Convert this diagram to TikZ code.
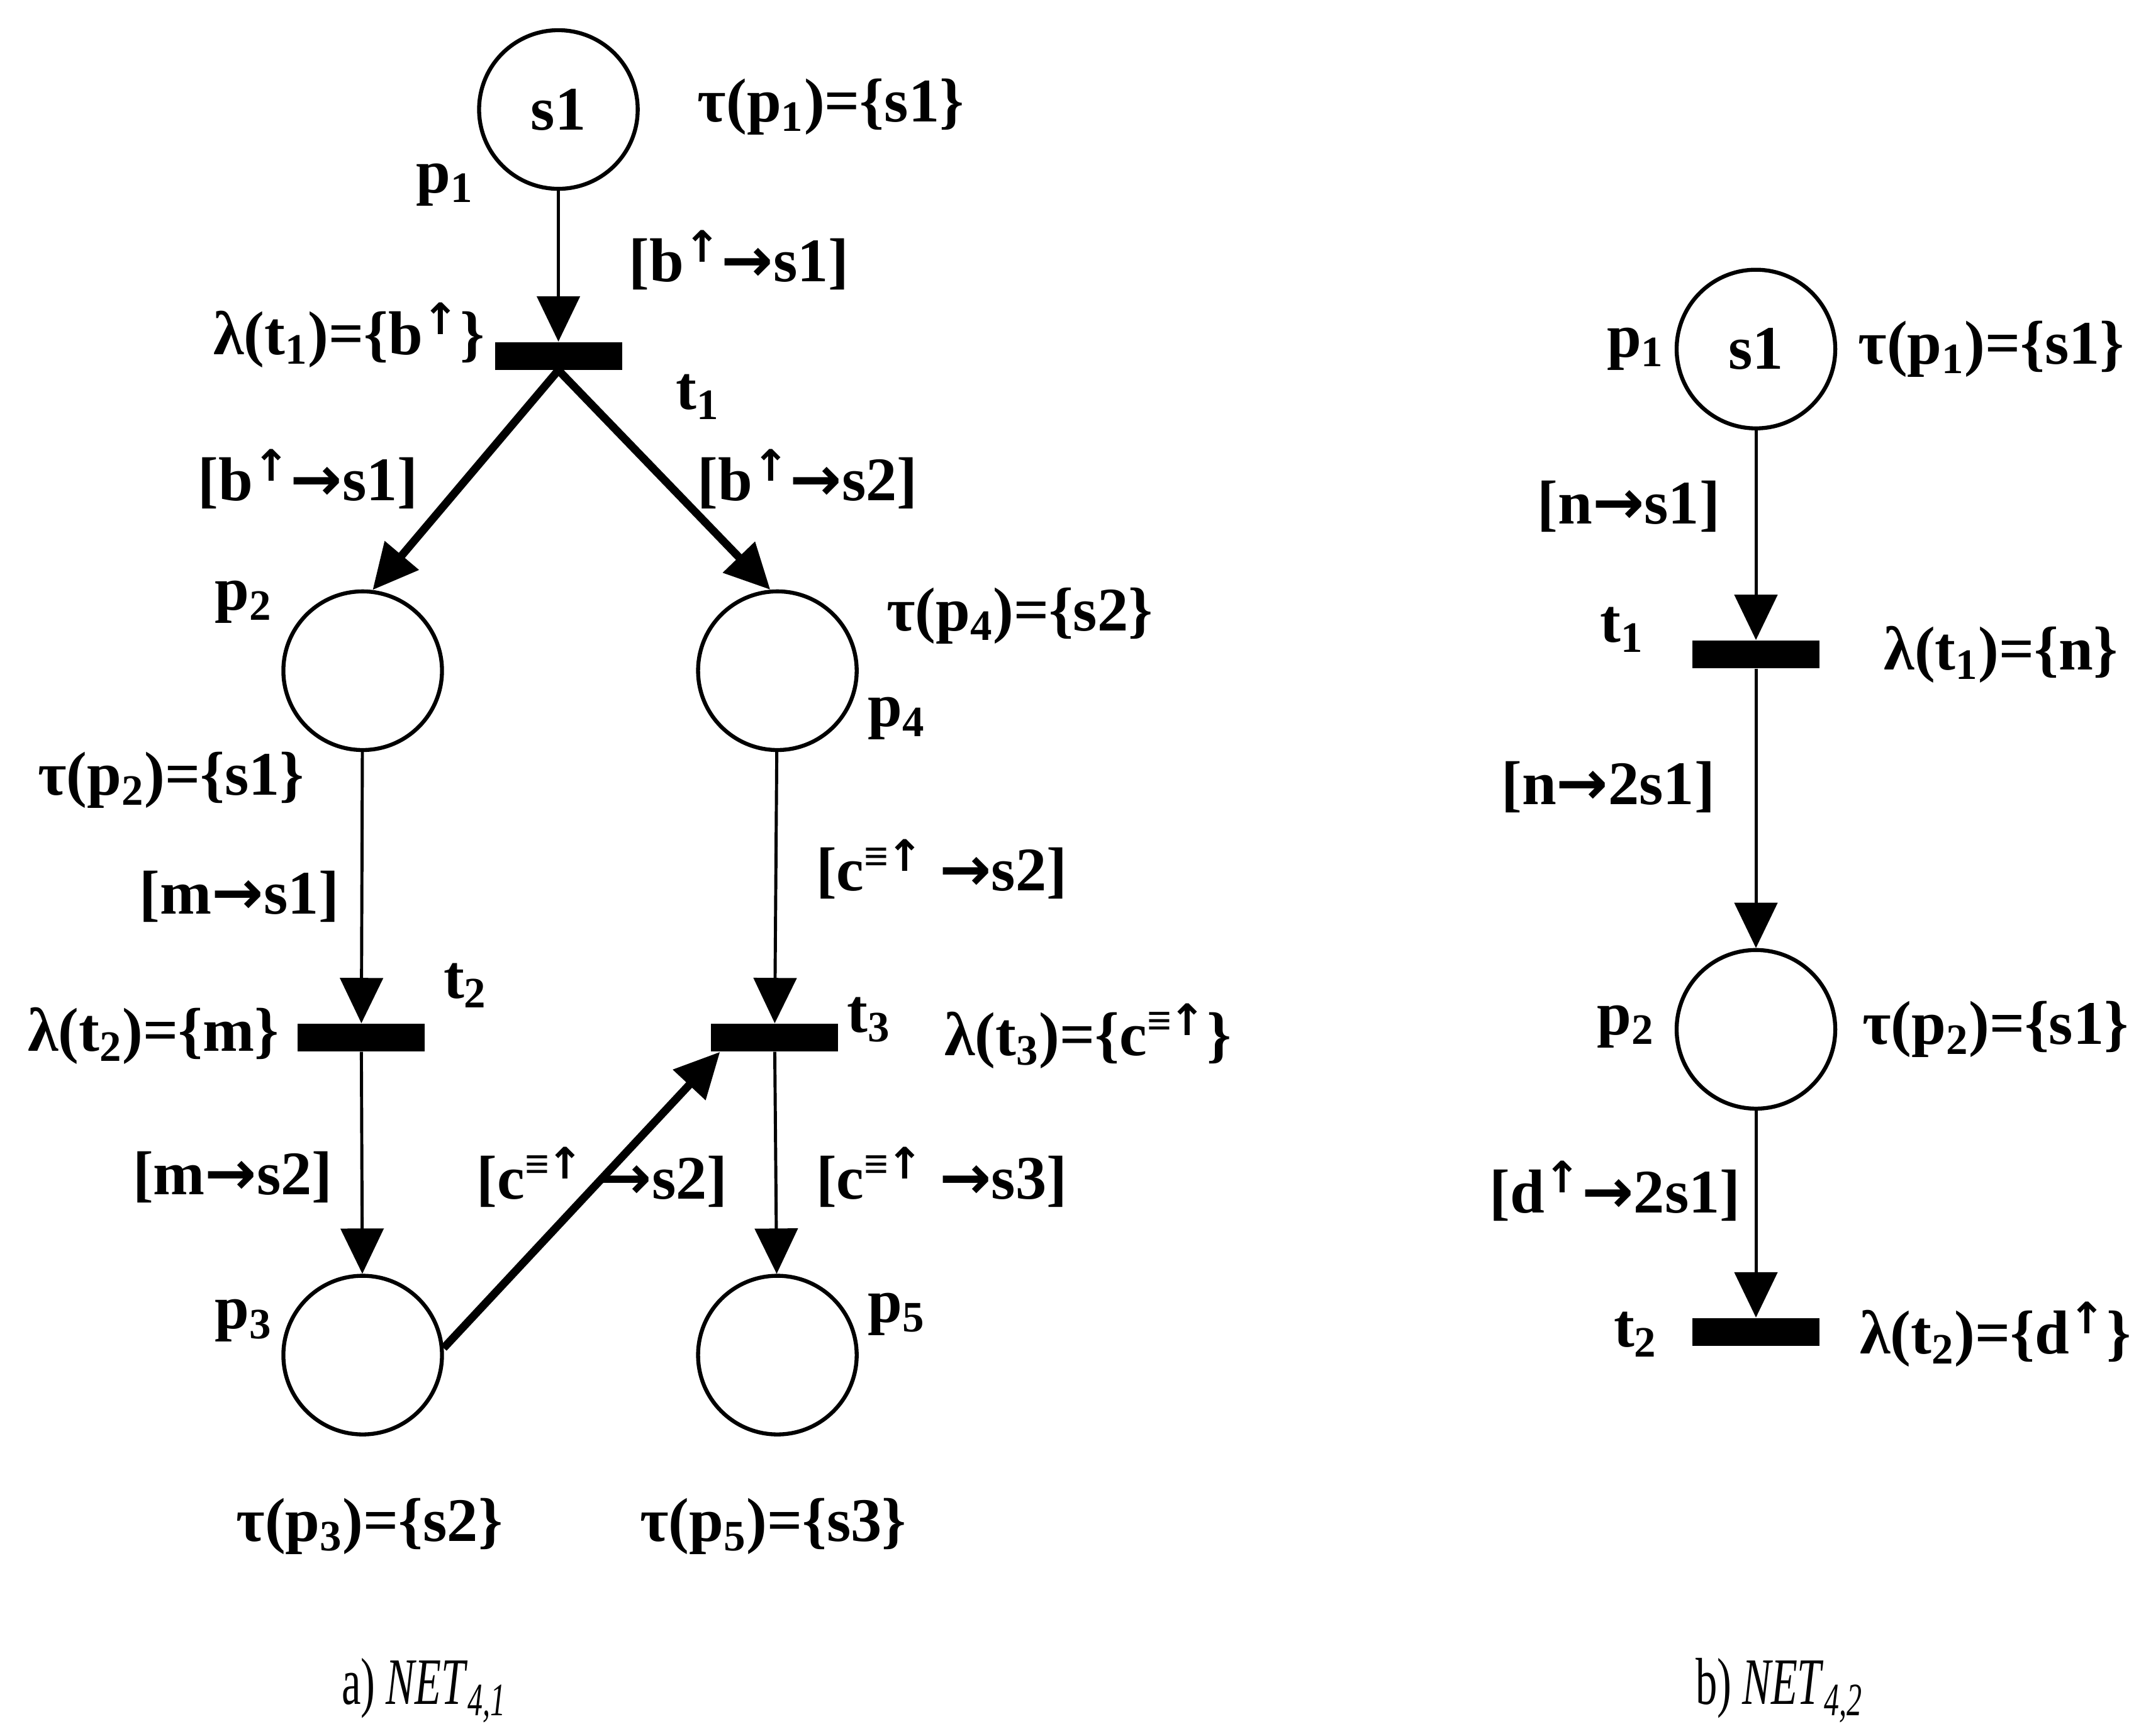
\documentclass[tikz,border=0pt]{standalone}
\usepackage{fontspec}
\setmainfont{Liberation Serif}
\newfontfamily\captfont{Liberation Serif}[FakeStretch=0.65]
\newfontfamily\arrfont{DejaVu Sans}
\usetikzlibrary{arrows.meta}
\newcommand{\lbfont}{\bfseries\fontsize{28}{32}\selectfont}
\newcommand{\ra}{{\arrfont\bfseries →}}
\newcommand{\up}{\textsuperscript{\arrfont\bfseries ↑}}
\newcommand{\cequp}{\textsuperscript{≡\kern-.05em{\arrfont\bfseries ↑}}}
\tikzset{
  place/.style={circle,draw,line width=1.8pt,minimum size=2.52cm,inner sep=0pt,font=\lbfont},
  trans/.style={fill=black,minimum width=2.02cm,minimum height=0.44cm,inner sep=0pt},
  arc/.style={line width=1.4pt,-{Triangle[length=0.72cm,width=0.68cm]}},
  heavy/.style={arc,line width=3.6pt},
  lbl/.style={font=\lbfont,inner sep=0pt},
  capt/.style={font=\captfont\fontsize{30}{34}\selectfont,inner sep=0pt}}
\begin{document}
\begin{tikzpicture}[x=0.02175cm,y=-0.02175cm]
\useasboundingbox (0,0) rectangle (1568,1268);
% a) NET 4,1
\node[place] (p1) at (408,80) {s1};
\node[trans] (t1) at (408,260) {};
\node[place] (p2) at (265,490) {};
\node[place] (p4) at (568,490) {};
\node[trans] (t2) at (264,758) {};
\node[trans] (t3) at (566,758) {};
\node[place] (p3) at (265,990) {};
\node[place] (p5) at (568,990) {};
\draw[arc] (p1) -- (t1);
\draw[heavy] (t1.south) -- (p2.83);
\draw[heavy] (t1.south) -- (p4.95);
\draw[arc] (p2) -- (t2);
\draw[arc] (t2) -- (p3);
\draw[arc] (p4) -- (t3);
\draw[arc] (t3) -- (p5);
\draw[heavy] (p3.5) -- ([xshift=0.15cm]t3.south west);
\node[lbl] (tp1) at (607,78) {τ(p\textsubscript{1})=\{s1\}};
\node[lbl] (np1) at (325,135) {p\textsubscript{1}};
\node[lbl] (a11) at (540,190) {[b\up\ra s1]};
\node[lbl] (lt1) at (255,245) {λ(t\textsubscript{1})=\{b\up\}};
\node[lbl] (nt1) at (510,290) {t\textsubscript{1}};
\node[lbl] (a12) at (225,350) {[b\up\ra s1]};
\node[lbl] (a14) at (590,350) {[b\up\ra s2]};
\node[lbl] (np2) at (178,440) {p\textsubscript{2}};
\node[lbl] (tp2) at (125,570) {τ(p\textsubscript{2})=\{s1\}};
\node[lbl] (tp4) at (745,450) {τ(p\textsubscript{4})=\{s2\}};
\node[lbl] (np4) at (655,525) {p\textsubscript{4}};
\node[lbl] (a22) at (175,655) {[m\ra s1]};
\node[lbl] (a43) at (688,635) {[c\cequp{} \ra s2]};
\node[lbl] (nt2) at (340,720) {t\textsubscript{2}};
\node[lbl] (lt2) at (112,757) {λ(t\textsubscript{2})=\{m\}};
\node[lbl] (nt3) at (635,745) {t\textsubscript{3}};
\node[lbl] (lt3) at (795,757) {λ(t\textsubscript{3})=\{c\cequp\}};
\node[lbl] (a23) at (170,860) {[m\ra s2]};
\node[lbl] (a33) at (440,860) {[c\cequp{} \ra s2]};
\node[lbl] (a35) at (688,860) {[c\cequp{} \ra s3]};
\node[lbl] (np3) at (178,965) {p\textsubscript{3}};
\node[lbl] (np5) at (655,960) {p\textsubscript{5}};
\node[lbl] (tp3) at (270,1115) {τ(p\textsubscript{3})=\{s2\}};
\node[lbl] (tp5) at (565,1115) {τ(p\textsubscript{5})=\{s3\}};
\node[capt] (capa) at (310,1235) {a) \textit{NET}\textsubscript{\textit{4,1}}};
% b) NET 4,2
\node[place] (q1) at (1283,255) {s1};
\node[trans] (u1) at (1283,478) {};
\node[place] (q2) at (1283,752) {};
\node[trans] (u2) at (1283,973) {};
\draw[arc] (q1) -- (u1);
\draw[arc] (u1) -- (q2);
\draw[arc] (q2) -- (u2);
\node[lbl] (nq1) at (1195,255) {p\textsubscript{1}};
\node[lbl] (tq1) at (1455,255) {τ(p\textsubscript{1})=\{s1\}};
\node[lbl] (b11) at (1190,370) {[n\ra s1]};
\node[lbl] (nu1) at (1185,460) {t\textsubscript{1}};
\node[lbl] (lu1) at (1462,478) {λ(t\textsubscript{1})=\{n\}};
\node[lbl] (b12) at (1175,575) {[n\ra 2s1]};
\node[lbl] (nq2) at (1188,750) {p\textsubscript{2}};
\node[lbl] (tq2) at (1458,752) {τ(p\textsubscript{2})=\{s1\}};
\node[lbl] (b22) at (1180,870) {[d\up\ra 2s1]};
\node[lbl] (nu2) at (1195,975) {t\textsubscript{2}};
\node[lbl] (lu2) at (1458,975) {λ(t\textsubscript{2})=\{d\up\}};
\node[capt] (capb) at (1300,1235) {b) \textit{NET}\textsubscript{\textit{4,2}}};
\end{tikzpicture}
\end{document}
